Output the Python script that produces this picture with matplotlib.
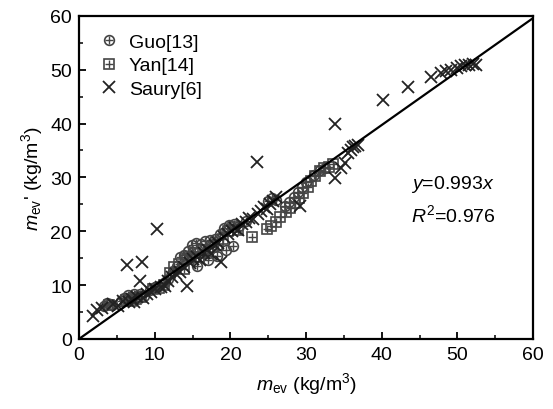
import matplotlib
matplotlib.use("Agg")
import matplotlib.pyplot as plt
import numpy as np

plt.rcParams['font.family'] = ['Liberation Sans', 'DejaVu Sans']
plt.rcParams['mathtext.fontset'] = 'custom'
plt.rcParams['mathtext.rm'] = 'Liberation Sans'
plt.rcParams['mathtext.it'] = 'Liberation Sans:italic'

# Guo[13]
guo_x = [3.3, 3.7, 4.1, 4.4, 5.6, 6.0, 6.4, 6.8, 7.2, 7.6, 8.1, 8.6, 9.4, 10.0, 10.6, 11.3, 11.8,
         12.4, 12.9, 13.3, 13.9, 14.4, 14.9, 15.5, 16.1, 16.7, 17.3, 17.9, 18.6, 19.2, 19.8, 20.5,
         21.2, 22.0, 15.6, 17.0, 18.2, 19.4, 20.3, 25.0, 25.5, 26.0, 27.2, 27.8, 28.4, 28.9, 29.4,
         30.0, 31.0, 31.8, 32.5]
guo_y = [6.2, 6.6, 6.5, 6.3, 7.0, 7.6, 8.1, 7.7, 8.3, 8.0, 8.4, 8.0, 9.1, 9.6, 9.9, 10.6, 11.2,
         12.6, 13.6, 15.3, 15.6, 16.4, 17.4, 17.9, 17.6, 18.2, 18.4, 18.6, 19.5, 20.6, 21.2, 21.4,
         21.0, 21.9, 13.6, 14.6, 15.4, 16.6, 17.3, 25.6, 26.1, 25.8, 24.6, 25.5, 26.3, 27.2, 28.3,
         29.2, 30.4, 31.3, 31.8]

# Yan[14]
yan_x = [4.0, 6.2, 6.9, 7.5, 8.2, 9.8, 10.5, 11.2, 12.0, 12.6, 13.2, 13.8, 14.2, 14.8, 15.3, 15.9,
         16.4, 17.1, 17.7, 18.3, 19.0, 19.7, 20.4, 21.0, 22.9, 24.8, 25.3, 26.0, 26.6, 27.3, 27.9,
         28.5, 29.1, 29.6, 30.2, 30.7, 31.2, 31.8, 32.4, 33.0, 33.6]
yan_y = [6.3, 7.3, 7.0, 7.4, 7.8, 9.2, 9.4, 10.0, 12.2, 13.4, 14.0, 12.9, 14.8, 15.3, 16.0, 15.2,
         16.6, 15.9, 17.0, 17.5, 18.6, 20.0, 20.8, 20.2, 18.9, 20.4, 20.9, 21.8, 22.6, 23.6, 24.4,
         25.3, 26.2, 27.1, 28.3, 29.4, 30.3, 31.2, 31.8, 32.0, 32.4]

# Saury[6]
saury_x = [1.8, 2.4, 3.0, 4.5, 5.2, 5.8, 6.3, 6.6, 7.0, 7.3, 7.7, 8.1, 8.3, 8.5, 9.0, 9.5, 10.0,
           10.3, 10.8, 11.3, 11.8, 12.3, 12.8, 13.3, 13.8, 14.2, 14.6, 15.1, 15.6, 16.0, 16.5, 17.0,
           17.4, 17.9, 18.4, 18.8, 19.2, 19.7, 20.2, 20.6, 21.0, 21.5, 22.0, 22.5, 23.0, 23.5, 23.6,
           24.0, 24.4, 24.8, 25.2, 25.6, 26.0, 29.2, 33.8, 33.8, 34.6, 35.2, 35.5, 35.9, 36.2, 36.5,
           36.8, 40.2, 43.5, 46.5, 47.8, 48.5, 49.2, 49.9, 50.5, 51.0, 51.5, 52.0, 52.5]
saury_y = [4.2, 5.3, 5.8, 6.4, 6.2, 7.0, 13.8, 6.8, 7.4, 6.9, 7.8, 10.7, 14.2, 7.6, 8.4, 8.7, 9.2,
           20.4, 9.6, 9.8, 10.8, 11.5, 12.1, 12.4, 13.3, 9.8, 14.1, 14.8, 15.3, 14.6, 16.0, 16.5,
           15.7, 17.4, 17.8, 14.3, 18.9, 19.5, 20.0, 20.6, 20.2, 21.3, 21.8, 22.4, 22.3, 32.8, 23.2,
           23.8, 24.5, 24.2, 25.0, 25.6, 26.4, 24.6, 40.0, 29.8, 31.8, 32.6, 34.6, 35.0, 35.6, 35.9,
           36.0, 44.3, 46.8, 48.6, 49.3, 49.8, 50.0, 50.3, 50.6, 50.8, 50.9, 51.0, 50.9]

slope = 0.993
fit_x = [0, 60]

fig = plt.figure(figsize=(5.53, 4.10), dpi=100)
ax = fig.add_axes([0.143, 0.171, 0.821, 0.788])

gc = '#444444'
g1, = ax.plot(guo_x, guo_y, ls='none', marker='o', ms=7, mfc='none', mec=gc, mew=1.2)
g2, = ax.plot(guo_x, guo_y, ls='none', marker='+', ms=6, mec=gc, mew=1.0)
y1, = ax.plot(yan_x, yan_y, ls='none', marker='s', ms=6.5, mfc='none', mec=gc, mew=1.2)
y2, = ax.plot(yan_x, yan_y, ls='none', marker='+', ms=6, mec=gc, mew=1.0)
s1, = ax.plot(saury_x, saury_y, ls='none', marker='x', ms=9, mec='#222222', mew=1.3)

ax.plot(fit_x, [slope * v for v in fit_x], color='black', lw=1.6)

ax.legend([(g1, g2), (y1, y2), s1], ['Guo[13]', 'Yan[14]', 'Saury[6]'],
          loc='upper left', frameon=False, fontsize=14, handletextpad=0.35,
          labelspacing=0.3, borderaxespad=0.5, handlelength=1.3)

ax.text(0.73, 0.48, r'$y$=0.993$x$', transform=ax.transAxes, fontsize=14, va='center')
ax.text(0.73, 0.385, r'$R^2$=0.976', transform=ax.transAxes, fontsize=14, va='center')

ax.set_xlim(0, 60)
ax.set_ylim(0, 60)
ax.set_xticks(np.arange(0, 61, 10))
ax.set_yticks(np.arange(0, 61, 10))
ax.set_xticks(np.arange(5, 60, 10), minor=True)
ax.set_yticks(np.arange(5, 60, 10), minor=True)
ax.tick_params(which='both', direction='in', labelsize=14, top=False, right=False)
ax.tick_params(which='major', length=5, width=1.3, pad=5)
ax.tick_params(which='minor', length=3, width=1.1)
for sp in ax.spines.values():
    sp.set_linewidth(1.6)

ax.set_xlabel(r'$m_{\rm ev}$ (kg/m$^3$)', fontsize=14, labelpad=5)
ax.set_ylabel(r"$m_{\rm ev}$' (kg/m$^3$)", fontsize=14, labelpad=4)

fig.savefig('out.png', dpi=100)
